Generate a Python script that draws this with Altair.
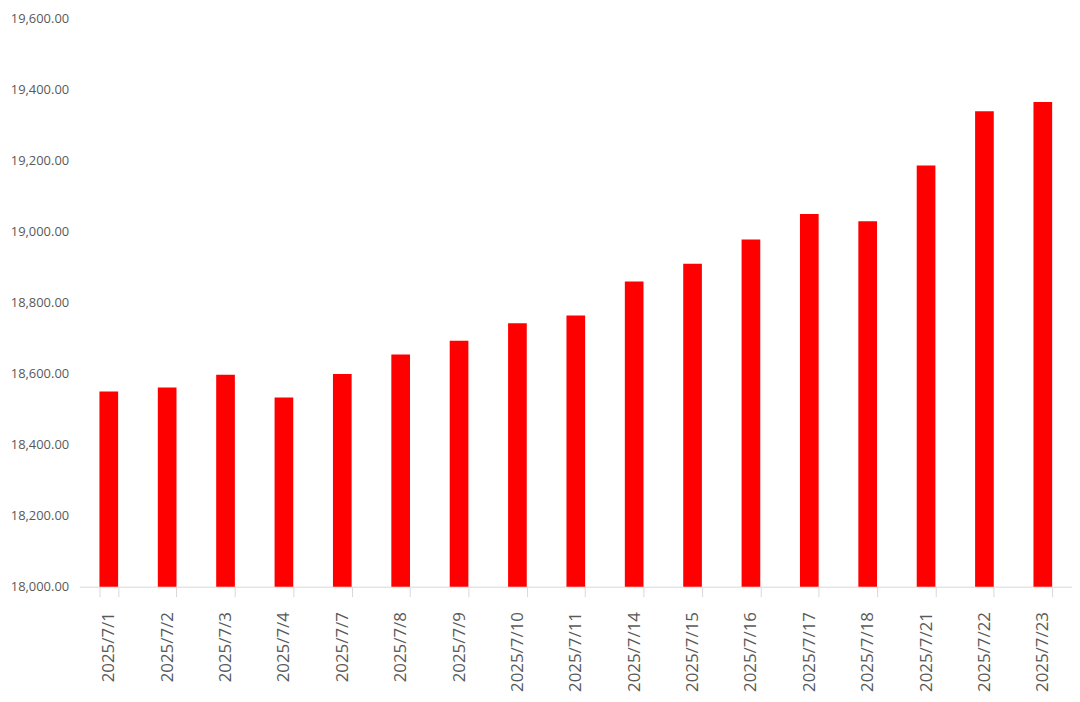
import altair as alt
import pandas as pd

dates = ["2025/7/1", "2025/7/2", "2025/7/3", "2025/7/4", "2025/7/7", "2025/7/8",
         "2025/7/9", "2025/7/10", "2025/7/11", "2025/7/14", "2025/7/15", "2025/7/16",
         "2025/7/17", "2025/7/18", "2025/7/21", "2025/7/22", "2025/7/23"]
values = [18550, 18561, 18597, 18533, 18599, 18654, 18693, 18742, 18764, 18860,
          18910, 18978, 19050, 19030, 19187, 19340, 19366]
y_ticks = [18000, 18200, 18400, 18600, 18800, 19000, 19200, 19400, 19600]

df = pd.DataFrame({"date": dates, "value": values})

chart = alt.Chart(df).mark_bar(color="#FF0000").encode(
    x=alt.X("date:N", sort=None, title=None,
            scale=alt.Scale(paddingInner=0.68, paddingOuter=0.34),
            axis=alt.Axis(labelAngle=-90, labelFontSize=17, labelColor="#595959",
                          labelFont="Open Sans", labelPadding=15,
                          tickBand="extent", ticks=True, tickSize=10,
                          tickColor="#d9d9d9", domainColor="#d9d9d9",
                          labelAlign="right", labelBaseline="middle", grid=False)),
    y=alt.Y("value:Q", title=None,
            scale=alt.Scale(domain=[18000, 19600], zero=False, nice=False),
            axis=alt.Axis(values=y_ticks, format=",.2f", labelFontSize=13,
                          labelColor="#595959", labelFont="Open Sans",
                          labelPadding=11, ticks=False, domain=False, grid=False)),
    y2=alt.datum(18000),
).properties(
    width=998, height=571,
    autosize=alt.AutoSizeParams(type="none"),
    padding={"left": 72, "top": 9, "right": 0, "bottom": 106},
).configure_view(stroke=None)

chart.save("out.html", embed_options={"renderer": "svg", "actions": False})
